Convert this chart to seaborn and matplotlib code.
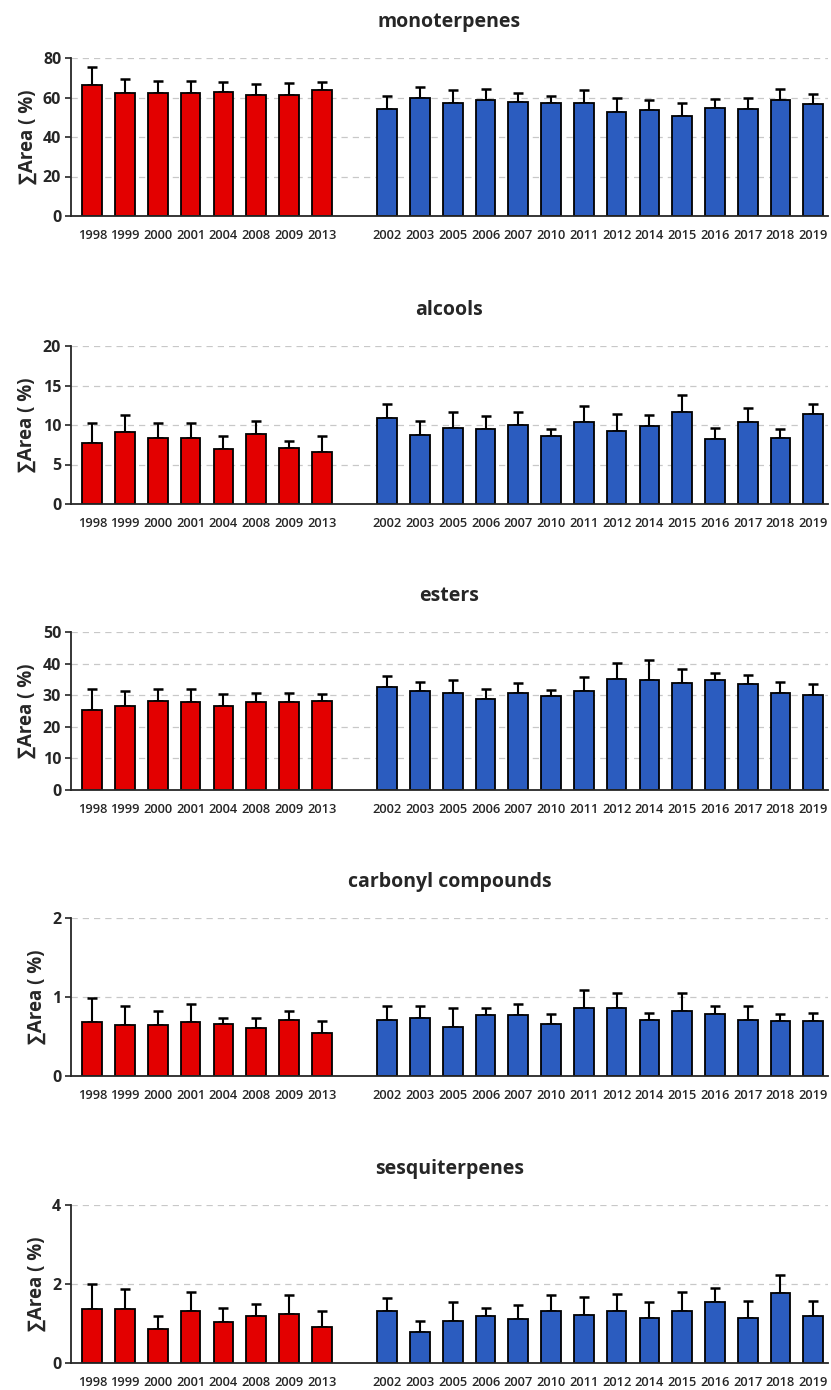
import pandas as pd
import matplotlib.pyplot as plt
import seaborn as sns

red_years = ['1998', '1999', '2000', '2001', '2004', '2008', '2009', '2013']
blue_years = ['2002', '2003', '2005', '2006', '2007', '2010', '2011', '2012',
              '2014', '2015', '2016', '2017', '2018', '2019']

titles = ['monoterpenes', 'alcools', 'esters', 'carbonyl compounds', 'sesquiterpenes']

# mean values (red group, then blue group)
mono_red = [66.5, 62.1, 62.1, 62.1, 62.9, 61.3, 61.3, 63.6]
mono_blue = [54.3, 60.0, 57.1, 58.6, 57.8, 57.1, 57.1, 52.9, 53.5, 50.6, 54.8, 54.3, 58.6, 56.5]
alc_red = [7.7, 9.1, 8.4, 8.4, 6.95, 8.9, 7.1, 6.6]
alc_blue = [10.9, 8.7, 9.65, 9.45, 10.0, 8.55, 10.4, 9.3, 9.85, 11.65, 8.2, 10.4, 8.4, 11.45]
est_red = [25.4, 26.7, 28.1, 27.7, 26.7, 27.7, 27.7, 28.1]
est_blue = [32.6, 31.2, 30.7, 28.9, 30.7, 29.8, 31.2, 35.2, 34.7, 33.9, 34.7, 33.4, 30.7, 30.2]
carb_red = [0.68, 0.64, 0.64, 0.68, 0.66, 0.61, 0.71, 0.55]
carb_blue = [0.71, 0.73, 0.62, 0.77, 0.77, 0.66, 0.86, 0.86, 0.71, 0.82, 0.78, 0.71, 0.69, 0.69]
sesq_red = [1.36, 1.36, 0.86, 1.32, 1.03, 1.18, 1.25, 0.92]
sesq_blue = [1.32, 0.78, 1.07, 1.18, 1.11, 1.32, 1.21, 1.32, 1.14, 1.32, 1.54, 1.14, 1.76, 1.18]

# upper end of error bars
mono_red_top = [75.3, 69.4, 68.6, 68.6, 68.0, 66.6, 67.3, 68.0]
mono_blue_top = [60.7, 65.1, 63.8, 64.4, 62.1, 60.7, 63.8, 60.0, 58.7, 57.0, 59.2, 60.0, 64.4, 61.6]
alc_red_top = [10.2, 11.3, 10.2, 10.3, 8.55, 10.55, 8.0, 8.55]
alc_blue_top = [12.7, 10.55, 11.6, 11.1, 11.6, 9.5, 12.4, 11.4, 11.3, 13.8, 9.65, 12.2, 9.45, 12.7]
est_red_top = [32.1, 31.2, 32.1, 32.1, 30.3, 30.7, 30.7, 30.3]
est_blue_top = [36.1, 34.3, 34.8, 32.1, 33.9, 31.7, 35.8, 40.2, 41.1, 38.3, 36.95, 36.5, 34.3, 33.4]
carb_red_top = [0.99, 0.89, 0.82, 0.91, 0.73, 0.73, 0.82, 0.69]
carb_blue_top = [0.89, 0.89, 0.86, 0.86, 0.91, 0.78, 1.09, 1.05, 0.80, 1.05, 0.88, 0.88, 0.78, 0.80]
sesq_red_top = [2.01, 1.87, 1.18, 1.79, 1.39, 1.50, 1.71, 1.32]
sesq_blue_top = [1.65, 1.07, 1.54, 1.39, 1.46, 1.71, 1.68, 1.75, 1.54, 1.79, 1.90, 1.57, 2.22, 1.57]

panels = [
    (mono_red, mono_blue, mono_red_top, mono_blue_top, 80, 20),
    (alc_red, alc_blue, alc_red_top, alc_blue_top, 20, 5),
    (est_red, est_blue, est_red_top, est_blue_top, 50, 10),
    (carb_red, carb_blue, carb_red_top, carb_blue_top, 2, 1),
    (sesq_red, sesq_blue, sesq_red_top, sesq_blue_top, 4, 2),
]

sns.set_style('white')
plt.rcParams['font.family'] = ['Open Sans', 'DejaVu Sans']

RED = '#E30000'
BLUE = '#2B5CBF'
order = red_years + [' '] + blue_years

W, H = 831, 1390
fig = plt.figure(figsize=(W / 100, H / 100), dpi=100)
tops = [58, 346, 632, 918, 1205]
ax_h = 158
left, right = 71, 828

for i, (r, b, rt, bt, ymax, step) in enumerate(panels):
    ax = fig.add_axes([left / W, 1 - (tops[i] + ax_h) / H, (right - left) / W, ax_h / H])
    df = pd.DataFrame({
        'year': red_years + blue_years,
        'value': r + b,
        'top': rt + bt,
        'group': ['red'] * len(red_years) + ['blue'] * len(blue_years),
    })
    sns.barplot(data=df, x='year', y='value', hue='group', order=order,
                palette={'red': RED, 'blue': BLUE}, dodge=False, legend=False,
                saturation=1, width=0.6, edgecolor='black', linewidth=1.3,
                ax=ax, zorder=2)
    pos = [order.index(y) for y in df['year']]
    err = df['top'] - df['value']
    ax.errorbar(pos, df['value'], yerr=[[0] * len(err), err], fmt='none',
                ecolor='black', elinewidth=1.5, capsize=3.5, capthick=1.8, zorder=1)

    ax.set_xlim(-0.65, len(order) - 0.55)
    ax.set_ylim(0, ymax)
    ticks = list(range(0, ymax + 1, step))
    ax.set_yticks(ticks)
    ax.set_yticklabels([str(t) for t in ticks], fontsize=11.5, fontweight='bold')
    for t in ticks[1:]:
        ax.axhline(t, color='#C8C8C8', ls=(0, (5, 4)), lw=0.9, zorder=0)
    ax.tick_params(axis='y', left=True, length=4, width=1.2, pad=3)
    ax.tick_params(axis='x', bottom=False, labelsize=9.3, pad=6)
    for lab in ax.get_xticklabels():
        lab.set_fontweight('semibold')
    ax.set_xlabel('')
    ax.set_ylabel('∑Area ( %)', fontsize=13.5, fontweight='bold', labelpad=4)
    ax.set_title(titles[i], fontsize=14, fontweight='bold', pad=22)
    sns.despine(ax=ax)
    ax.spines['left'].set_linewidth(1.3)
    ax.spines['bottom'].set_linewidth(1.3)

fig.savefig('out.png', dpi=100, facecolor='white')
